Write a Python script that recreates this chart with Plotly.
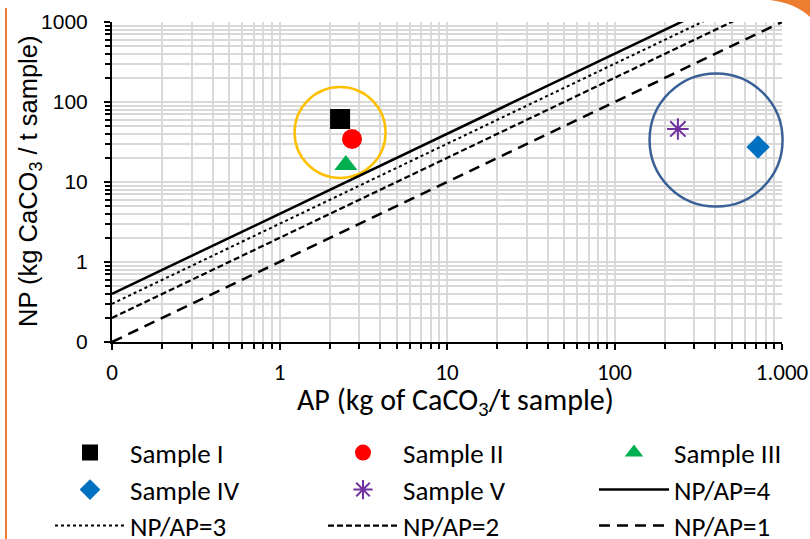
import plotly.graph_objects as go

# ---- data ----
sample_names = ["Sample I", "Sample II", "Sample III", "Sample IV", "Sample V"]
sample_ap = [2.30, 2.71, 2.49, 720, 239]
sample_np = [61.3, 34.5, 16.3, 27.4, 46.0]
sample_colors = ["#000000", "#ff0000", "#00b050", "#0070c0", "#7030a0"]
sample_symbols = ["square", "circle", "triangle-up", "diamond", "asterisk-open"]
sample_sizes = [20, 20, 20, 18, 18]

ratio_names = ["NP/AP=4", "NP/AP=3", "NP/AP=2", "NP/AP=1"]
ratios = [4, 3, 2, 1]
ratio_dash = ["solid", "dot", "6px,3px", "11px,7px"]
ratio_width = [2.5, 2, 2.2, 2.5]
ap_span = [0.1, 1000]

group_centers_ap = [2.30, 404]
group_centers_np = [41.6, 33.5]
group_colors = ["#ffc000", "#3a6097"]
group_diam = [91, 133]

x_tickvals = [0.1, 1, 10, 100, 1000]
x_ticktext = ["0", "1", "10", "100", "1.000"]
y_tickvals = [0.1, 1, 10, 100, 1000]
y_ticktext = ["0", "1", "10", "100", "1000"]
x_title = "AP (kg of CaCO<sub>3</sub>/t sample)"
y_title = "NP (kg CaCO<sub>3</sub> / t sample)"

NARROW = "Carlito, Liberation Sans Narrow, Liberation Sans, Arial"
ARIAL = "Liberation Sans, Arial"

fig = go.Figure()

# group circles (no legend)
for cx, cy, col, d in zip(group_centers_ap, group_centers_np, group_colors, group_diam):
    fig.add_trace(go.Scatter(
        x=[cx], y=[cy], mode="markers", showlegend=False, hoverinfo="skip",
        marker=dict(symbol="circle-open", size=d, color=col, line=dict(color=col, width=2.5)),
        cliponaxis=False))

legend_ids = ["legend", "legend2", "legend3", "legend4", "legend5",
              "legend6", "legend7", "legend8", "legend9"]
col_x = [131, 404, 675]
row_y = [453, 490, 526]

for i in range(5):
    sym = sample_symbols[i]
    mk = dict(symbol=sym, size=sample_sizes[i], color=sample_colors[i])
    if sym.endswith("open"):
        mk["line"] = dict(color=sample_colors[i], width=2)
    else:
        mk["line"] = dict(width=0)
    fig.add_trace(go.Scatter(x=[sample_ap[i]], y=[sample_np[i]], mode="markers",
                             name=sample_names[i], marker=mk, legend=legend_ids[i]))

for i in range(4):
    fig.add_trace(go.Scatter(
        x=ap_span, y=[a * ratios[i] for a in ap_span], mode="lines",
        name=ratio_names[i], legend=legend_ids[5 + i],
        line=dict(color="black", width=ratio_width[i], dash=ratio_dash[i])))

L, R, T, B = 112, 28, 22, 197
W, H = 810, 539
pw, ph = W - L - R, H - T - B

def px(xp):
    return (xp - L) / pw

def py(yp):
    return 1 - (yp - T) / ph

grid = "#d9d9d9"
axis_common = dict(
    type="log", showline=True, linecolor="black", linewidth=2,
    ticks="outside", ticklen=6, tickwidth=1.5, tickcolor="black",
    showgrid=True, gridcolor=grid, gridwidth=1.5, zeroline=False,
    minor=dict(ticks="outside", ticklen=5, tickwidth=1.5, tickcolor="black",
               showgrid=True, gridcolor=grid, gridwidth=1.5, dtick="D1"),
)

fig.update_xaxes(
    range=[-1, 3], tickvals=x_tickvals, ticktext=x_ticktext,
    tickfont=dict(family=NARROW, size=23, color="black"),
    ticklabelstandoff=2, **axis_common)
fig.update_yaxes(
    range=[-1, 3], tickvals=y_tickvals, ticktext=y_ticktext,
    tickfont=dict(family=ARIAL, size=21, color="black"),
    ticklabelstandoff=12, **axis_common)

ITEM_W = 70
legends = {}
for k, lid in enumerate(legend_ids):
    r, c = divmod(k, 3)
    legends[lid] = dict(
        orientation="h", xanchor="left", yanchor="middle",
        x=px(col_x[c] - (ITEM_W + 11)), y=py(row_y[r]), itemwidth=ITEM_W,
        font=dict(family=NARROW, size=27, color="black"),
        bgcolor="rgba(0,0,0,0)")

fig.update_layout(
    width=W, height=H, margin=dict(l=L, r=R, t=T, b=B, autoexpand=False),
    paper_bgcolor="white", plot_bgcolor="white",
    annotations=[
        dict(text=x_title, xref="paper", yref="paper", x=px(455), y=py(401),
             xanchor="center", yanchor="middle", showarrow=False,
             font=dict(family=NARROW, size=30, color="black")),
        dict(text=y_title, xref="paper", yref="paper", x=px(30), y=py(182),
             xanchor="center", yanchor="middle", showarrow=False, textangle=-90,
             font=dict(family=ARIAL, size=25.5, color="black")),
    ],
    shapes=[
        dict(type="line", xref="paper", yref="paper", x0=px(6), x1=px(6),
             y0=py(H), y1=py(8), line=dict(color="#ed7d31", width=2)),
        dict(type="path", xref="paper", yref="paper", fillcolor="#ed7d31",
             line=dict(width=0),
             path=f"M {px(770)} {py(0)} Q {px(795)} {py(3)} {px(810)} {py(17)} "
                  f"L {px(810)} {py(0)} Z"),
    ],
    **legends,
)

fig.write_html("out.html", config={"displayModeBar": False},
               post_script="document.body.style.margin='0px';")
